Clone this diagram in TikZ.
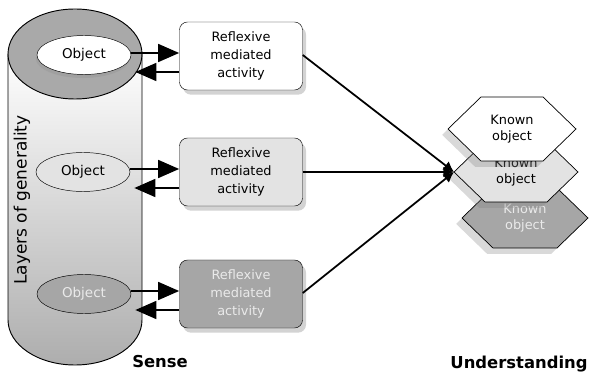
\documentclass[tikz,border=0pt]{standalone}
\usepackage{fontspec}
\setmainfont{DejaVu Sans}
\usetikzlibrary{positioning,calc,shapes.geometric,arrows.meta,shadows}
\definecolor{lightfill}{HTML}{E3E3E3}
\definecolor{darkfill}{HTML}{A6A6A6}
\definecolor{palefont}{HTML}{EAEAEA}
\definecolor{rimfill}{HTML}{A9A9A9}
\tikzset{
  activity/.style={draw, rounded corners=0.24cm, minimum width=3.69cm, minimum height=2.04cm,
    align=center, font=\fontsize{11}{15}\selectfont,
    drop shadow={shadow xshift=3pt, shadow yshift=-4pt, opacity=0.35}},
  object/.style={draw, ellipse, minimum width=2.82cm, minimum height=1.17cm, inner sep=0pt,
    font=\fontsize{11.5}{14}\selectfont},
  hexa/.style={draw, line width=0.6pt,
    drop shadow={shadow xshift=-5pt, shadow yshift=-5pt, opacity=0.3}},
  known/.style={align=center, inner sep=0pt, font=\fontsize{11}{14}\selectfont},
  link/.style={line width=2.5pt, -{Triangle[length=18pt,width=15pt]}},
  feed/.style={line width=1.5pt, -{Latex[length=9pt,width=9pt]}},
  caption/.style={font=\bfseries\fontsize{14}{16}\selectfont}
}

\begin{document}
\begin{tikzpicture}[x=0.03cm, y=-0.03cm]
  \useasboundingbox (0,0) rectangle (591,374);
  % the cylinder of layers
  \shade[top color=white, bottom color=black!32, draw, line width=0.8pt]
    (8,54) -- (8,320) arc[start angle=180, end angle=0, x radius=67, y radius=45] -- (142,54) -- cycle;
  \draw[fill=rimfill, line width=0.8pt] (75,54) ellipse[x radius=67, y radius=45];
  \node[rotate=90, font=\fontsize{14.5}{16}\selectfont] (layers) at (22,200) {Layers of generality};

  \node[object, fill=white, drop shadow={shadow xshift=-1pt, shadow yshift=-3pt, opacity=0.2}] (obj1) at (84,55) {Object};
  \node[object, fill=lightfill] (obj2) at (83,172) {Object};
  \node[object, fill=darkfill, text=palefont] (obj3) at (84,294) {Object};

  \node[activity, fill=white] (act1) at (241,56) {Reflexive\\mediated\\activity};
  \node[activity, fill=lightfill] (act2) at (241,172) {Reflexive\\mediated\\activity};
  \node[activity, fill=darkfill, text=palefont] (act3) at (241,294) {Reflexive\\mediated\\activity};

  % object <-> activity
  \foreach \i in {1,2,3} {
    \path ($(act\i.west)+(0,-3)$) coordinate (in\i) ($(act\i.west)+(0,16)$) coordinate (out\i);
    \draw[link] (obj\i.east |- in\i) -- (in\i);
    \draw[link] (out\i) -- ($(obj\i.east |- out\i)+(4,0)$);
  }

  % known objects, back to front
  \draw[hexa, fill=darkfill, shift={(525,218)}] (-63,0) -- (-32,-30) -- (32,-30) -- (63,0) -- (32,30) -- (-32,30) -- cycle;
  \node[known, text=palefont] (known3) at (525,218) {Known\\object};
  \draw[hexa, fill=lightfill, shift={(516,172)}] (-62,0) -- (-31,-30) -- (31,-30) -- (62,0) -- (31,30) -- (-31,30) -- cycle;
  \coordinate (tip) at (454,172);
  \node[known] (known2) at (516,172) {Known\\object};
  \draw[hexa, fill=white, shift={(512,129)}] (-64,0) -- (-31,-32) -- (31,-32) -- (64,0) -- (31,32) -- (-31,32) -- cycle;
  \node[known] (known1) at (512,129) {Known\\object};

  \draw[feed] ($(act1.east)+(0,-1)$) -- (tip);
  \draw[feed] (act2.east) -- (tip);
  \draw[feed] ($(act3.east)+(0,-1)$) -- (tip);

  \node[caption] (sense) at (160,362) {Sense};
  \node[caption] (understanding) at (519,364) {Understanding};
\end{tikzpicture}
\end{document}
